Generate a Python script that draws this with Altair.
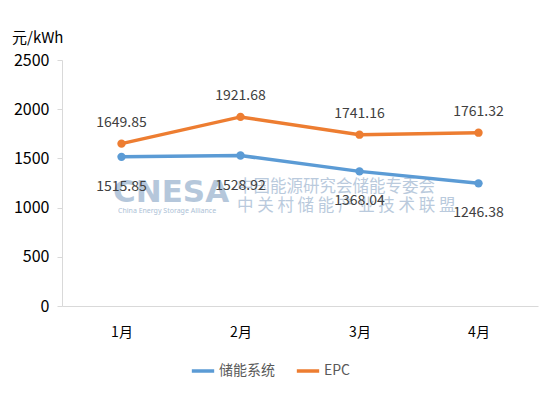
import altair as alt
import pandas as pd

months = ["1月", "2月", "3月", "4月"]
storage_system = [1515.85, 1528.92, 1368.04, 1246.38]
epc = [1649.85, 1921.68, 1741.16, 1761.32]
series_names = ["储能系统", "EPC"]
colors = ["#5B9BD5", "#ED7D31"]
y_ticks = [0, 500, 1000, 1500, 2000, 2500]

rows = []
for m, a, b in zip(months, storage_system, epc):
    rows.append({"month": m, "series": series_names[0], "value": a, "label": f"{a:.2f}"})
    rows.append({"month": m, "series": series_names[1], "value": b, "label": f"{b:.2f}"})
df = pd.DataFrame(rows)

FONT = "Noto Sans CJK SC"

x = alt.X("month:N", sort=months, scale=alt.Scale(type="point", padding=0.5),
          axis=alt.Axis(title=None, labelAngle=0, labelFontSize=14, labelColor="#000000",
                        labelFont=FONT, ticks=False, domainColor="#D9D9D9", labelPadding=19,
                        grid=False))
y = alt.Y("value:Q", scale=alt.Scale(domain=[0, 2500], nice=False),
          axis=alt.Axis(title=None, values=y_ticks, format="d", labelFontSize=16,
                        labelColor="#000000", labelFont=FONT, tickColor="#D9D9D9", tickSize=5,
                        domainColor="#D9D9D9", grid=False, labelPadding=8))
color = alt.Color("series:N", sort=series_names,
                  scale=alt.Scale(domain=series_names, range=colors),
                  legend=alt.Legend(title=None, orient="none", direction="horizontal",
                                    legendX=128, legendY=298, symbolType="stroke",
                                    symbolStrokeWidth=3.5, symbolSize=500,
                                    labelFontSize=14, labelColor="#595959", labelFont=FONT,
                                    columnPadding=14, labelOffset=3))

base = alt.Chart(df)
lines = base.mark_line(strokeWidth=3.5).encode(x=x, y=y, color=color)
points = base.mark_point(filled=True, size=70, opacity=1).encode(x=x, y=y, color=color)

labels_epc = base.transform_filter(alt.datum.series == "EPC").mark_text(
    dy=-21, fontSize=14, color="#404040", font=FONT).encode(x=x, y=y, text="label:N")
labels_sys = base.transform_filter(alt.datum.series == "储能系统").mark_text(
    dy=30, fontSize=14, color="#404040", font=FONT).encode(x=x, y=y, text="label:N")

wm_color = "#9DB5CF"
wm1 = alt.Chart(pd.DataFrame({"t": ["CNESA"]})).mark_text(
    fontSize=31, fontWeight="bold", color=wm_color, opacity=0.75, align="left", baseline="middle",
    font="DejaVu Sans").encode(x=alt.value(51), y=alt.value(133), text="t:N")
wm2 = alt.Chart(pd.DataFrame({"t": ["China Energy Storage Alliance"]})).mark_text(
    fontSize=7, color=wm_color, opacity=0.85, align="left", baseline="middle",
    font="Noto Sans").encode(x=alt.value(56), y=alt.value(151), text="t:N")
wm3 = alt.Chart(pd.DataFrame({"t": ["中国能源研究会储能专委会"]})).mark_text(
    fontSize=16.5, color=wm_color, opacity=0.7, align="left", baseline="middle",
    font=FONT).encode(x=alt.value(175), y=alt.value(127), text="t:N")
wm4 = alt.Chart(pd.DataFrame({"t": ["中 关 村 储 能 产 业 技 术 联 盟"]})).mark_text(
    fontSize=16.5, color=wm_color, opacity=0.7, align="left", baseline="middle",
    font=FONT).encode(x=alt.value(175), y=alt.value(146), text="t:N")

unit = alt.Chart(pd.DataFrame({"t": ["元/kWh"]})).mark_text(
    fontSize=15, color="#000000", align="left", baseline="middle", font=FONT).encode(
    x=alt.value(-50), y=alt.value(-22), text="t:N")

chart = alt.layer(wm1, wm2, wm3, wm4, lines, points, labels_epc, labels_sys, unit).properties(
    width=476, height=246,
    autosize=alt.AutoSizeParams(type="none"),
    padding={"left": 54, "top": 52, "right": 8, "bottom": 80},
    background="#FFFFFF",
).configure_view(stroke=None)

chart.save("out.html", embed_options={"renderer": "svg", "actions": False})
